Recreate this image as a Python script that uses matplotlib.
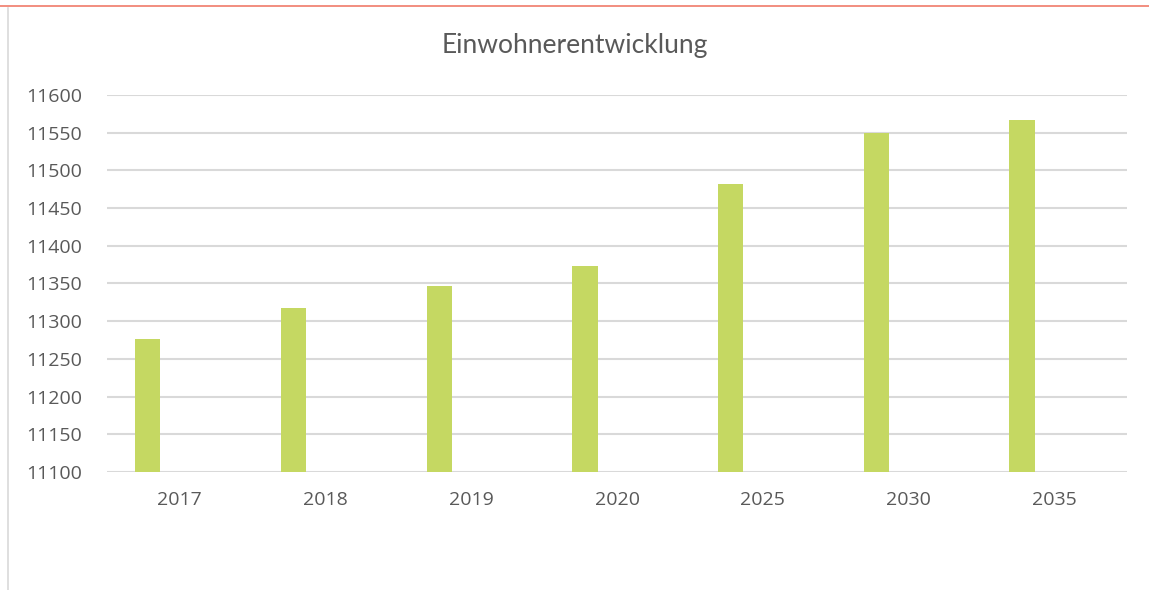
import matplotlib.pyplot as plt
import numpy as np

# Einwohnerentwicklung (Excel-Säulendiagramm)
jahre = ["2017", "2018", "2019", "2020", "2025", "2030", "2035"]
einwohner = [11276, 11317, 11347, 11373, 11482, 11549, 11567]
y_ticks = list(range(11100, 11601, 50))

plt.rcParams["font.family"] = ["Open Sans", "DejaVu Sans"]
text_farbe = "#595959"

fig = plt.figure(figsize=(11.49, 5.90), dpi=100)
ax = fig.add_axes([0.0931, 0.2, 0.8878, 0.639])

x = np.arange(len(jahre))
ax.bar(x - 0.22, einwohner, width=0.174, color="#C5D862", zorder=3)

ax.set_xlim(-0.5, len(jahre) - 0.5)
ax.set_ylim(y_ticks[0], y_ticks[-1])
ax.set_yticks(y_ticks)
ax.set_xticks(x)
ax.set_xticklabels(jahre)
ax.yaxis.grid(True, color="#D9D9D9", linewidth=1.5, zorder=0)
ax.set_axisbelow(True)
for s in ax.spines.values():
    s.set_visible(False)
ax.tick_params(axis="both", length=0, labelsize=14, labelcolor=text_farbe)
ax.tick_params(axis="x", pad=14)
ax.tick_params(axis="y", pad=18)

fig.text(0.5, 1 - 45 / 590, "Einwohnerentwicklung", ha="center", va="center",
         fontsize=19, color=text_farbe, family=["Lato", "DejaVu Sans"])

# Rahmen: rote Linie oben, graue Linie links
fig.add_artist(plt.Line2D([0, 1], [1 - 6 / 590, 1 - 6 / 590], color="#F07A6A", linewidth=1.2))
fig.add_artist(plt.Line2D([8 / 1149, 8 / 1149], [0, 1 - 8 / 590], color="#D9D9D9", linewidth=1.2))

fig.savefig("out.png", dpi=100)
